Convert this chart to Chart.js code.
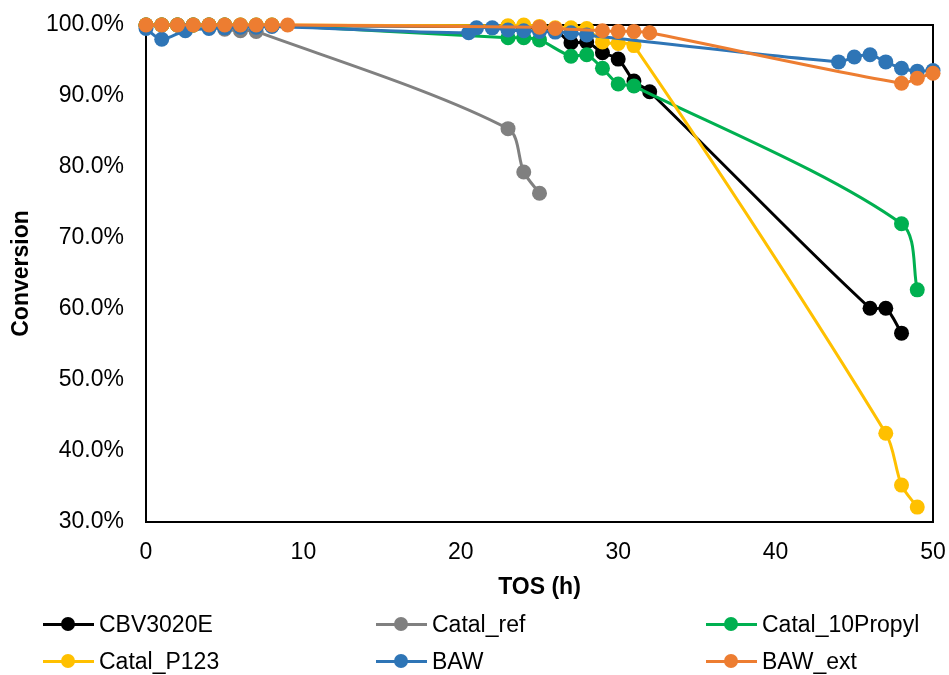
<!DOCTYPE html>
<html>
<head>
<meta charset="utf-8">
<script src="https://cdn.jsdelivr.net/npm/chart.js@4.4.1/dist/chart.umd.min.js"></script>
<style>
  html, body { margin: 0; padding: 0; background: #fff; }
  #wrap { position: relative; width: 949px; height: 675px; }
  #legend { position: absolute; left: 0; top: 0; width: 949px; height: 675px; pointer-events: none;
    font-family: 'Liberation Sans', Arial, sans-serif; font-size: 23px; color: #000; }
  .item { position: absolute; height: 28px; display: flex; align-items: center; }
  .sym { position: relative; width: 51px; height: 28px; margin-right: 5px; }
  .sym .ln { position: absolute; left: 0; right: 0; top: 12.5px; height: 3px; }
  .sym .dot { position: absolute; left: 18px; top: 7px; width: 14px; height: 14px; border-radius: 50%; }
</style>
</head>
<body>
<div id="wrap">
  <canvas id="chart" width="949" height="675"></canvas>
  <div id="legend"></div>
</div>
<script>
// Waktu (h) dan konversi (%) per katalis
const cbvX = [0, 1, 2, 3, 4, 5, 6, 7, 8, 23, 24, 25, 26, 27, 28, 29, 30, 31, 32, 46, 47, 48];
const cbvY = [100, 100, 100, 100, 100, 100, 99.9, 99.9, 99.9, 99.8, 99.7, 99.5, 99.3, 97.5, 97.6, 96.1, 95.2, 92.1, 90.6, 60.1, 60.1, 56.6];

const refX = [0, 1, 2, 3, 4, 5, 6, 7, 23, 24, 25];
const refY = [100, 100, 100, 100, 100, 99.4, 99.2, 99.1, 85.4, 79.3, 76.3];

const propylX = [0, 1, 2, 3, 4, 5, 6, 7, 8, 23, 24, 25, 27, 28, 29, 30, 31, 48, 49];
const propylY = [100, 100, 100, 100, 100, 100, 100, 100, 100, 98.2, 98.2, 97.9, 95.6, 95.8, 93.9, 91.7, 91.4, 72.0, 62.7];

const p123X = [0, 1, 2, 3, 4, 5, 6, 7, 8, 23, 24, 25, 26, 27, 28, 29, 30, 31, 47, 48, 49];
const p123Y = [100, 100, 100, 100, 100, 100, 100, 100, 100, 99.9, 100, 99.8, 99.6, 99.6, 99.5, 97.6, 97.4, 97.1, 42.5, 35.2, 32.1];

const bawX = [0, 1, 2.5, 4, 5, 6, 7, 8, 20.5, 21, 22, 23, 24, 25, 26, 27, 28, 44, 45, 46, 47, 48, 49, 50];
const bawY = [99.5, 98.0, 99.2, 99.5, 99.6, 99.7, 99.7, 99.8, 98.9, 99.6, 99.6, 99.3, 99.2, 99.1, 99.0, 98.9, 98.6, 94.8, 95.5, 95.8, 94.8, 93.9, 93.5, 93.6];

const extX = [0, 1, 2, 3, 4, 5, 6, 7, 8, 9, 25, 26, 29, 30, 31, 32, 48, 49, 50];
const extY = [100, 100, 100, 100, 100, 100, 100, 100, 100, 100, 99.7, 99.5, 99.2, 99.1, 99.1, 98.9, 91.8, 92.5, 93.2];

const seriesNames = ['CBV3020E', 'Catal_ref', 'Catal_10Propyl', 'Catal_P123', 'BAW', 'BAW_ext'];
const seriesX = [cbvX, refX, propylX, p123X, bawX, extX];
const seriesY = [cbvY, refY, propylY, p123Y, bawY, extY];
const warna = ['#000000', '#808080', '#00B050', '#FFC000', '#2E75B6', '#ED7D31'];

const xTicks = [0, 10, 20, 30, 40, 50];
const yTicks = [30, 40, 50, 60, 70, 80, 90, 100];

const FONT = "'Liberation Sans', Arial, sans-serif";

const datasets = seriesNames.map((nama, i) => ({
  label: nama,
  data: seriesX[i].map((x, j) => ({ x: x, y: seriesY[i][j] })),
  borderColor: warna[i],
  backgroundColor: warna[i],
  pointBackgroundColor: warna[i],
  pointBorderColor: warna[i],
  pointRadius: 7.5,
  pointBorderWidth: 0,
  borderWidth: 3,
  tension: 0.3,
  clip: false,
  order: seriesNames.length - i // seri terakhir digambar paling atas
}));

// garis kotak area plot
const kotakPlot = {
  id: 'kotakPlot',
  beforeDatasetsDraw(chart) {
    const a = chart.chartArea;
    const ctx = chart.ctx;
    ctx.save();
    ctx.strokeStyle = '#000';
    ctx.lineWidth = 2;
    ctx.strokeRect(a.left, a.top, a.right - a.left, a.bottom - a.top);
    ctx.restore();
  }
};

new Chart(document.getElementById('chart'), {
  type: 'line',
  data: { datasets: datasets },
  plugins: [kotakPlot],
  options: {
    responsive: false,
    animation: false,
    layout: { autoPadding: false, padding: { left: 0, top: 25, right: 16, bottom: 73 } },
    plugins: { legend: { display: false }, tooltip: { enabled: false } },
    scales: {
      x: {
        type: 'linear',
        min: 0, max: 50,
        afterBuildTicks: (s) => { s.ticks = xTicks.map(v => ({ value: v })); },
        afterFit: (s) => { s.height = 80; s.paddingLeft = 0; s.paddingRight = 0; },
        grid: { display: false, drawTicks: false },
        border: { display: false },
        ticks: { color: '#000', font: { family: FONT, size: 23 }, padding: 17, maxRotation: 0 },
        title: { display: true, text: 'TOS (h)', color: '#000', font: { family: FONT, size: 23, weight: 'bold' }, padding: { top: 1, bottom: 1 } }
      },
      y: {
        min: 30, max: 100,
        afterBuildTicks: (s) => { s.ticks = yTicks.map(v => ({ value: v })); },
        afterFit: (s) => { s.width = 146; s.paddingTop = 0; s.paddingBottom = 0; },
        grid: { display: false, drawTicks: false },
        border: { display: false },
        ticks: { color: '#000', font: { family: FONT, size: 23 }, padding: 22, callback: (v) => v.toFixed(1) + '%' },
        title: { display: true, text: 'Conversion', color: '#000', font: { family: FONT, size: 23, weight: 'bold' }, padding: { top: 8, bottom: 8 } }
      }
    }
  }
});

// legenda 3 kolom x 2 baris
const kolomX = [43, 376, 706];
const barisY = [624, 661];
const legendEl = document.getElementById('legend');
seriesNames.forEach((nama, i) => {
  const div = document.createElement('div');
  div.className = 'item';
  div.style.left = kolomX[i % 3] + 'px';
  div.style.top = (barisY[Math.floor(i / 3)] - 14) + 'px';
  div.innerHTML = `<span class="sym"><span class="ln" style="background:${warna[i]}"></span><span class="dot" style="background:${warna[i]}"></span></span><span>${nama}</span>`;
  legendEl.appendChild(div);
});
</script>
</body>
</html>
